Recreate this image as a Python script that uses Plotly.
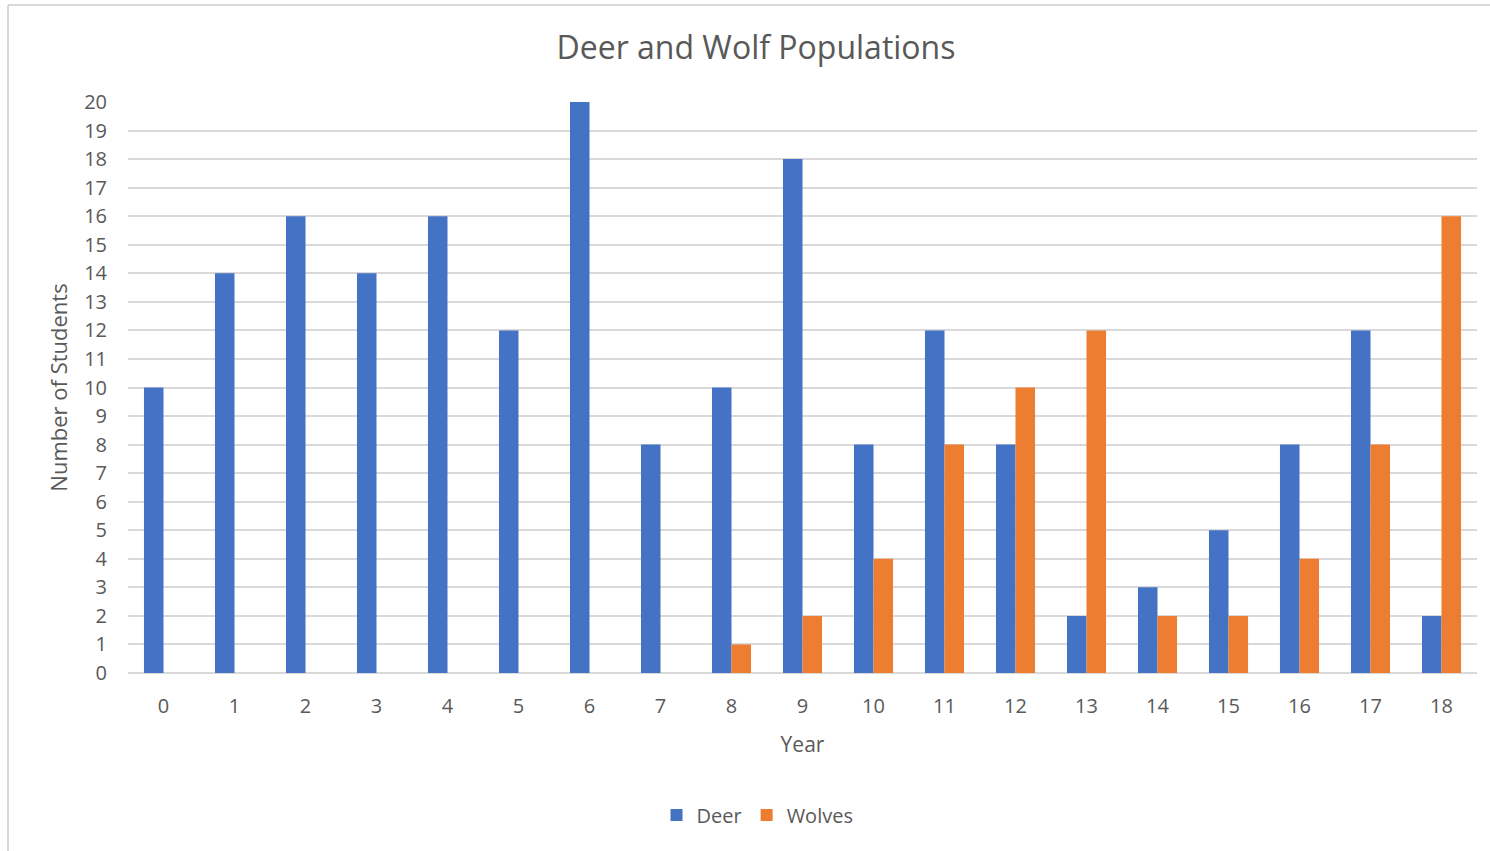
import plotly.graph_objects as go

years = [str(i) for i in range(19)]
deer = [10, 14, 16, 14, 16, 12, 20, 8, 10, 18, 8, 12, 8, 2, 3, 5, 8, 12, 2]
wolves = [0, 0, 0, 0, 0, 0, 0, 0, 1, 2, 4, 8, 10, 12, 2, 2, 4, 8, 16]
y_ticks = list(range(0, 21))

FONT = "Open Sans, sans-serif"
GREY = "#595959"

fig = go.Figure()
fig.add_trace(go.Bar(x=years, y=deer, name="Deer", marker_color="#4472C4",
                     marker_line_width=0))
fig.add_trace(go.Bar(x=years, y=wolves, name="Wolves", marker_color="#ED7D31",
                     marker_line_width=0))

W, H = 1490, 851
L, R, T, B = 128, 13, 102, 178
pw, ph = W - L - R, H - T - B

def px_x(p):
    return (p - L) / pw

def px_y(p):
    return (H - B - p) / ph

fig.update_layout(
    width=W, height=H,
    margin=dict(l=L, r=R, t=T, b=B),
    paper_bgcolor="white", plot_bgcolor="white",
    barmode="group", bargap=0.45, bargroupgap=0,
    title=dict(text="Deer and Wolf Populations", x=756 / W, xanchor="center",
               y=1 - 48 / H, yanchor="middle",
               font=dict(family=FONT, size=32, color=GREY)),
    font=dict(family=FONT, color=GREY),
    xaxis=dict(type="category", tickfont=dict(size=20, color=GREY),
               title=dict(text="Year", font=dict(size=21, color=GREY), standoff=19),
               showgrid=False, showline=False, ticks="", ticklabelstandoff=19),
    yaxis=dict(range=[0, 20], tickvals=y_ticks, ticktext=[str(v) for v in y_ticks],
               tickfont=dict(size=20, color=GREY),
               title=dict(text="Number of Students", font=dict(size=22, color=GREY), standoff=10),
               showgrid=True, gridcolor="#D9D9D9", gridwidth=1.5,
               zeroline=True, zerolinecolor="#D9D9D9", zerolinewidth=1.5,
               showline=False, ticks="", ticklabelstandoff=20),
    legend=dict(orientation="h", x=0.5 - 45 / pw, xanchor="center", y=px_y(815), yanchor="middle",
                font=dict(size=20, color=GREY), itemwidth=30, traceorder="normal"),
    shapes=[
        dict(type="line", xref="paper", yref="paper", x0=px_x(8), x1=px_x(8),
             y0=px_y(851), y1=px_y(5), line=dict(color="#D9D9D9", width=2)),
        dict(type="line", xref="paper", yref="paper", x0=px_x(8), x1=px_x(1490),
             y0=px_y(5), y1=px_y(5), line=dict(color="#D9D9D9", width=2)),
    ],
)

fig.write_html("out.html", config={"displayModeBar": False},
               post_script="document.body.style.margin='0';document.body.style.overflow='hidden';")
